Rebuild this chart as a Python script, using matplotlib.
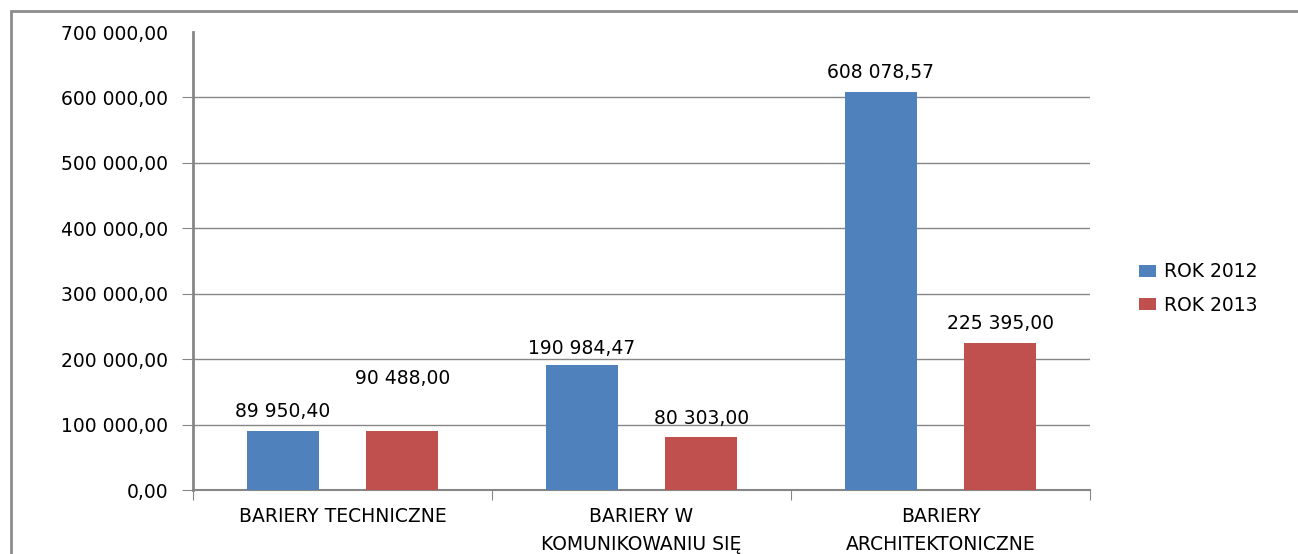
import matplotlib
matplotlib.use("Agg")
import matplotlib.pyplot as plt
from matplotlib.patches import Rectangle
from matplotlib.ticker import FuncFormatter, FixedLocator
import numpy as np

categories = ["BARIERY TECHNICZNE", "BARIERY W\nKOMUNIKOWANIU SIĘ", "BARIERY\nARCHITEKTONICZNE"]
series_names = ["ROK 2012", "ROK 2013"]
rok_2012 = [89950.40, 190984.47, 608078.57]
rok_2013 = [90488.00, 80303.00, 225395.00]
y_ticks = [0, 100000, 200000, 300000, 400000, 500000, 600000, 700000]

colors = ["#4F81BD", "#C0504D"]
# label lift above bar top, in points (the 90 488,00 one sits higher in the original)
lift_2012 = [14, 12, 14]
lift_2013 = [38, 14, 14]
fs = 13.5


def pl_fmt(v, pos=None):
    s = f"{v:,.2f}"
    return s.replace(",", " ").replace(".", ",")


plt.rcParams['font.family'] = ['DejaVu Sans']
fig = plt.figure(figsize=(12.98, 5.54), dpi=100)
ax = fig.add_axes([0.1487, 0.1155, 0.691, 0.8267])

x = np.arange(len(categories))
w = 0.24
grey = "#868686"

for i, (vals, lifts) in enumerate([(rok_2012, lift_2012), (rok_2013, lift_2013)]):
    off = -0.2 if i == 0 else 0.2
    b = ax.bar(x + off, vals, width=w, color=colors[i], label=series_names[i], zorder=3)
    for rect, v, lf in zip(b, vals, lifts):
        ax.annotate(pl_fmt(v), (rect.get_x() + rect.get_width() / 2, v),
                    xytext=(0, lf), textcoords="offset points",
                    ha="center", va="center", fontsize=fs, color="black")

ax.set_xlim(-0.5, 2.5)
ax.set_ylim(0, y_ticks[-1])
ax.yaxis.set_major_locator(FixedLocator(y_ticks))
ax.yaxis.set_major_formatter(FuncFormatter(pl_fmt))
# gridlines everywhere except the top one
for yv in y_ticks[1:-1]:
    ax.axhline(yv, color=grey, linewidth=1, zorder=0)

ax.set_xticks([-0.5, 0.5, 1.5, 2.5])
ax.set_xticklabels([])
ax.set_xticks(x, minor=True)
ax.set_xticklabels(categories, minor=True, fontsize=fs, linespacing=1.6)
ax.tick_params(axis="x", which="minor", length=0, pad=12)
ax.tick_params(axis="x", which="major", length=7, color=grey, direction="out")
ax.tick_params(axis="y", length=8, color=grey, labelsize=fs, pad=10)
ax.yaxis.get_major_ticks()[-1].tick1line.set_visible(False)
for lbl in ax.get_xticklabels(minor=True):
    lbl.set_verticalalignment("top")

for s in ["top", "right"]:
    ax.spines[s].set_visible(False)
ax.spines["left"].set_color(grey)
ax.spines["left"].set_linewidth(2)
ax.spines["bottom"].set_color(grey)
ax.spines["bottom"].set_linewidth(1.5)

ax.legend(loc="center left", bbox_to_anchor=(1.036, 0.44), frameon=False,
          fontsize=fs, handlelength=0.9, handleheight=0.6, handletextpad=0.45,
          labelspacing=0.75)

# outer chart frame (only top and left edges are visible in the crop)
fig.patches.append(Rectangle((11 / 1298, -0.1), 1.2, 1 - 11 / 554 + 0.1,
                             transform=fig.transFigure, fill=False,
                             edgecolor="#8c8c8c", linewidth=2))

fig.savefig("out.png", dpi=100)
